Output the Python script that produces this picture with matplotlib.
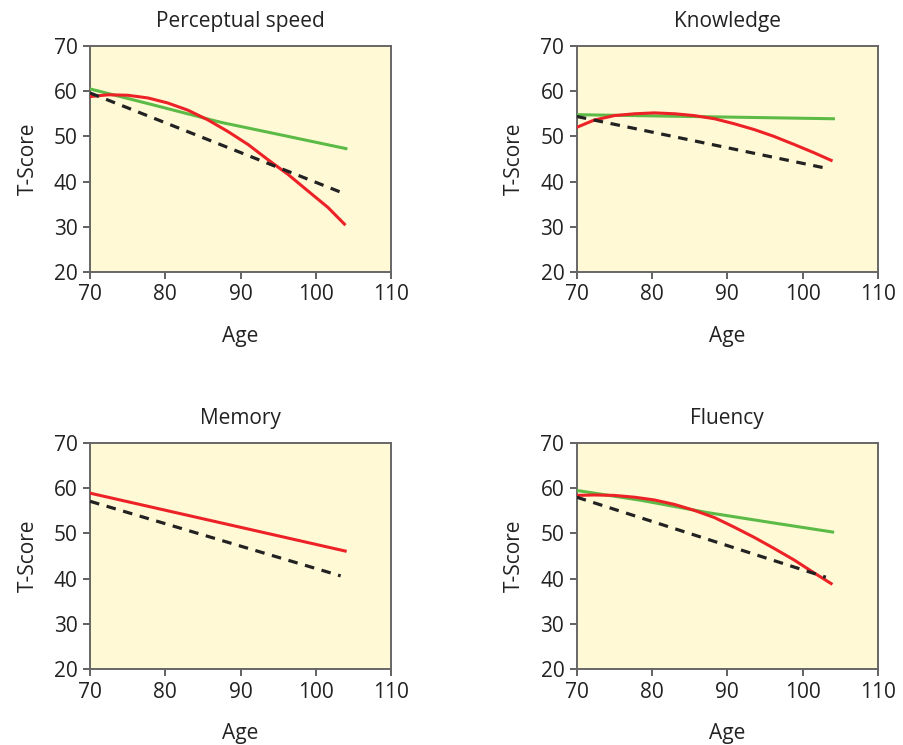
import matplotlib.pyplot as plt

plt.rcParams['font.family'] = ['Open Sans', 'DejaVu Sans']

# T-score trajectories (age, value)
ps_green_age = [70, 78.3, 87.4, 96.3, 104]
ps_green = [60.5, 57.0, 53.1, 50.0, 47.3]
ps_red_age = [70, 72.4, 75.0, 77.7, 80.3, 83.0, 85.6, 88.3, 91.0, 93.6, 96.3, 98.9, 101.6, 103.8]
ps_red = [58.8, 59.2, 59.1, 58.5, 57.4, 55.8, 53.7, 51.1, 48.2, 44.9, 41.6, 38.0, 34.3, 30.6]
ps_black_age = [70, 103.4]
ps_black = [59.6, 37.6]

kn_green_age = [70, 104.1]
kn_green = [54.8, 53.9]
kn_red_age = [70, 72.3, 75.0, 77.7, 80.3, 83.0, 85.6, 88.3, 90.9, 93.6, 96.2, 98.9, 101.5, 103.8]
kn_red = [52.0, 53.6, 54.6, 55.0, 55.2, 55.0, 54.6, 53.9, 52.8, 51.5, 50.0, 48.2, 46.4, 44.7]
kn_black_age = [70, 103.3]
kn_black = [54.4, 42.9]

mem_red_age = [70, 103.9]
mem_red = [58.9, 46.1]
mem_black_age = [70, 103.3]
mem_black = [57.1, 40.6]

fl_green_age = [70, 78.6, 87.4, 96.2, 104]
fl_green = [59.5, 57.3, 54.6, 52.3, 50.3]
fl_red_age = [70, 72.3, 75.0, 77.7, 80.3, 83.0, 85.6, 88.3, 90.9, 93.6, 96.2, 98.9, 101.5, 103.8]
fl_red = [58.4, 58.5, 58.4, 58.0, 57.4, 56.4, 55.1, 53.5, 51.4, 49.1, 46.7, 44.1, 41.3, 38.9]
fl_black_age = [70, 103.1]
fl_black = [58.0, 40.3]

x_ticks = [70, 80, 90, 100, 110]
y_ticks = [20, 30, 40, 50, 60, 70]

RED = "#EC2227"
GREEN = "#5CBB46"
BG = "#FFF9D6"

fig = plt.figure(figsize=(9.04, 7.45), dpi=100)

left_cols = [0.0996, 0.638]
bottoms = [0.6349, 0.102]
w, h = 0.333, 0.3034

panels = [
    ("Perceptual speed", (ps_green_age, ps_green), (ps_red_age, ps_red), (ps_black_age, ps_black)),
    ("Knowledge", (kn_green_age, kn_green), (kn_red_age, kn_red), (kn_black_age, kn_black)),
    ("Memory", None, (mem_red_age, mem_red), (mem_black_age, mem_black)),
    ("Fluency", (fl_green_age, fl_green), (fl_red_age, fl_red), (fl_black_age, fl_black)),
]

for i, (title, green, red, black) in enumerate(panels):
    ax = fig.add_axes([left_cols[i % 2], bottoms[i // 2], w, h])
    ax.set_facecolor(BG)
    if green is not None:
        ax.plot(green[0], green[1], color=GREEN, lw=2.2, zorder=3,
                solid_joinstyle="round")
    ax.plot(red[0], red[1], color=RED, lw=2.2, zorder=4, solid_joinstyle="round")
    ax.plot(black[0], black[1], color="#222222", lw=2.3, ls=(0, (3, 2.4)), zorder=5)
    ax.set_xlim(70, 110)
    ax.set_ylim(20, 70)
    ax.set_xticks(x_ticks)
    ax.set_yticks(y_ticks)
    ax.tick_params(labelsize=15, length=5, width=1.3, pad=4,
                   color="#555555", labelcolor="#222222")
    for sp in ax.spines.values():
        sp.set_color("#666666")
        sp.set_linewidth(1.4)
    ax.set_title(title, fontsize=15, color="#222222", pad=14)
    ax.set_xlabel("Age", fontsize=15, color="#222222", labelpad=15)
    ax.set_ylabel("T-Score", fontsize=15, color="#222222", labelpad=11)

fig.savefig("out.png", dpi=100)
